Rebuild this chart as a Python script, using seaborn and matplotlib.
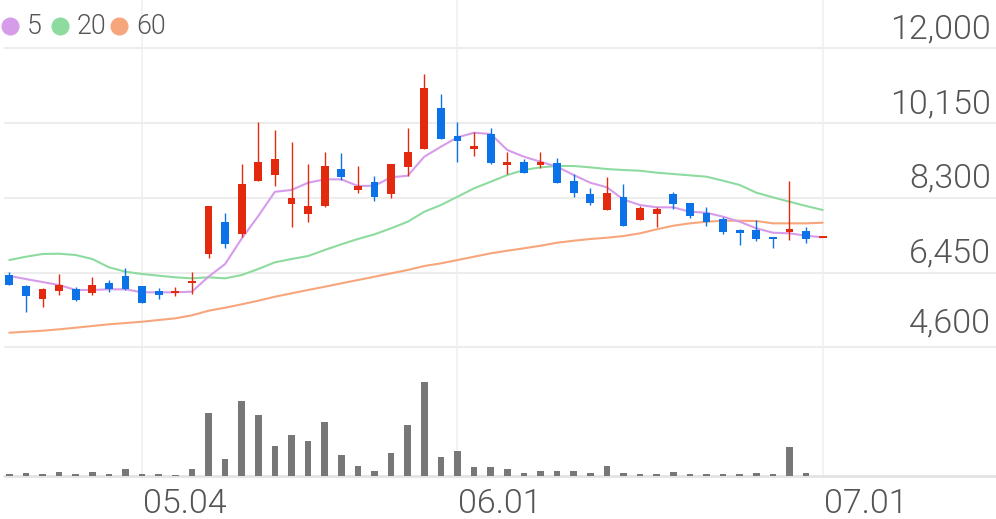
import numpy as np
import pandas as pd
import matplotlib
matplotlib.use("Agg")
import matplotlib.pyplot as plt
import seaborn as sns

# ---------------- data ----------------
dates = pd.bdate_range("2020-04-20", "2020-07-01", freq="C",
                       holidays=["2020-04-30", "2020-05-01", "2020-05-05"])

opens = [6390, 6120, 5790, 6000, 6040, 5950, 6200, 6370, 6120, 6000,
         5940, 6190, 6910, 7710, 7400, 8720, 8860, 8150, 7900, 8100,
         9010, 8490, 8700, 8390, 9070, 9510, 10530, 9830, 9500, 9870,
         9100, 9180, 9100, 9170, 8720, 8390, 8000, 8330, 7750, 7900,
         8390, 8180, 7930, 7770, 7490, 7500, 7340, 7460, 7490, 7300]
highs = [6460, 6140, 6060, 6410, 6100, 6350, 6270, 6560, 6120, 6060,
         6100, 6460, 8100, 7930, 9130, 10170, 9970, 9670, 9130, 9430,
         9400, 9090, 8850, 9140, 10020, 11360, 10860, 10170, 9920, 10020,
         9430, 9250, 9430, 9280, 8880, 8540, 8820, 8630, 8100, 8080,
         8450, 8180, 8080, 7830, 7530, 7750, 7340, 8720, 7580, 7300]
lows = [6140, 5470, 5590, 5890, 5750, 5890, 5960, 6020, 5700, 5800,
        5870, 5910, 6800, 7050, 7320, 8720, 8590, 7580, 7690, 8080,
        8740, 8410, 8220, 8290, 8840, 9510, 9750, 9180, 9340, 9140,
        8890, 8910, 9030, 8660, 8310, 8120, 8000, 7610, 7750, 7580,
        8020, 7810, 7600, 7400, 7130, 7230, 7050, 7260, 7170, 7300]
closes = [6140, 5880, 6040, 6130, 5770, 6150, 6040, 6040, 5700, 5890,
          5990, 6250, 8100, 7160, 8630, 9190, 9250, 8290, 8100, 9090,
          8810, 8600, 8330, 9140, 9440, 11020, 9750, 9710, 9590, 9150,
          9190, 8920, 9180, 8670, 8430, 8160, 8430, 7610, 8050, 8020,
          8150, 7850, 7710, 7450, 7440, 7270, 7270, 7530, 7280, 7300]

ma5 = [6364, 6290, 6216, 6141, 6018, 6018, 6035, 6035, 5961, 5961,
       5961, 5976, 6347, 6661, 7292, 7849, 8450, 8493, 8673, 8757,
       8757, 8592, 8599, 8807, 8846, 9317, 9564, 9797, 9911, 9879,
       9483, 9317, 9193, 9069, 8864, 8673, 8560, 8257, 8121, 8064,
       8064, 7955, 7931, 7832, 7708, 7545, 7436, 7421, 7362, 7322]
ma20 = [6760, 6842, 6909, 6916, 6884, 6785, 6580, 6471, 6414, 6372,
        6332, 6307, 6332, 6307, 6389, 6538, 6703, 6785, 6859, 7008,
        7149, 7280, 7396, 7545, 7708, 7955, 8121, 8327, 8535, 8698,
        8864, 8988, 9054, 9087, 9087, 9054, 9012, 8988, 8970, 8921,
        8889, 8856, 8822, 8723, 8617, 8426, 8312, 8203, 8097, 7998]
ma60 = [4961, 4986, 5010, 5045, 5085, 5127, 5169, 5201, 5233, 5275,
        5317, 5391, 5505, 5580, 5664, 5753, 5852, 5936, 6018, 6099,
        6183, 6265, 6347, 6431, 6513, 6612, 6678, 6760, 6842, 6926,
        6990, 7050, 7114, 7188, 7238, 7280, 7312, 7354, 7421, 7520,
        7609, 7668, 7708, 7733, 7733, 7725, 7668, 7668, 7668, 7683]

volumes = [17, 27, 17, 37, 17, 34, 14, 67, 17, 14,
           7, 70, 624, 170, 750, 607, 297, 407, 347, 540,
           207, 97, 47, 227, 504, 937, 184, 250, 84, 90,
           70, 24, 47, 44, 47, 27, 100, 27, 17, 17,
           40, 17, 17, 14, 17, 24, 14, 284, 24, 0]   # thousands of shares

y_ticks = [12000, 10150, 8300, 6450, 4600]
y_tick_labels = ["12,000", "10,150", "8,300", "6,450", "4,600"]
legend_labels = ["5", "20", "60"]

# ---------------- style ----------------
sns.set_style("white")
plt.rcParams["font.family"] = ["Roboto", "DejaVu Sans"]

UP = "#e42a0e"
DOWN = "#0b72e7"
MA_COLORS = ["#d69ce9", "#8edb9f", "#f7a67c"]
TXT = "#555555"
GRID = "#ededed"

W, H = 996, 519
fig = plt.figure(figsize=(W / 100, H / 100), dpi=100)


def rect(x0, y0, x1, y1):
    return [x0 / W, 1 - y1 / H, (x1 - x0) / W, (y1 - y0) / H]


ax = fig.add_axes(rect(4, 0, 996, 350))
axv = fig.add_axes(rect(4, 350, 996, 475.7))

n = len(closes)
idx = np.arange(n)
x0_pix, step = 9.3, 16.6
xlim = ((4 - x0_pix) / step, (996 - x0_pix) / step)
for a in (ax, axv):
    a.set_xlim(*xlim)
    for s in a.spines.values():
        s.set_visible(False)
    a.set_xticks([])
    a.set_yticks([])
    a.set_facecolor("none")

# price scale: 12000 at pixel 48.3, 4600 at pixel 347.3
ppx = (12000 - 4600) / (347.3 - 48.3)
ax.set_ylim(12000 - (350 - 48.3) * ppx, 12000 + 48.3 * ppx)

# month ticks
months = [d.month for d in dates]
tick_idx = [i for i in range(1, n) if months[i] != months[i - 1]]
tick_lab = [dates[i].strftime("%m.%d") for i in tick_idx]

# grid
for v in y_ticks:
    ax.axhline(v, color=GRID, lw=1.5, zorder=0)
for t in tick_idx:
    ax.axvline(t, color="#efefef", lw=1.1, zorder=0)
    axv.axvline(t, color="#efefef", lw=1.1, zorder=0)

# candles
o = np.array(opens); c = np.array(closes)
hi = np.array(highs); lo = np.array(lows)
cols = [UP if cc >= oo else DOWN for oo, cc in zip(o, c)]
ax.vlines(idx, lo, hi, colors=cols, lw=1.0, zorder=3)
body_h = np.maximum(np.abs(c - o), 60)
ax.bar(idx, body_h, bottom=np.minimum(o, c), width=0.48, color=cols,
       linewidth=0, zorder=4)

# moving averages
df = pd.DataFrame({"i": idx, "ma5": ma5, "ma20": ma20, "ma60": ma60})
for col, color in zip(["ma60", "ma20", "ma5"], MA_COLORS[::-1]):
    sns.lineplot(data=df, x="i", y=col, ax=ax, color=color, lw=1.5,
                 estimator=None, sort=False, zorder=2)
ax.set_xlabel(""); ax.set_ylabel("")
ax.set_xticks([]); ax.set_yticks([])

# y labels (right, above gridlines)
for k, (v, lab) in enumerate(zip(y_ticks, y_tick_labels)):
    off = 15 if k == len(y_ticks) - 1 else 10
    ax.annotate(lab, xy=(1, v), xycoords=("axes fraction", "data"),
                xytext=(-5, off), textcoords="offset pixels",
                ha="right", va="baseline", fontsize=24.5, color=TXT,
                fontweight=300, annotation_clip=False)

# volume
axv.bar(idx, volumes, width=0.4, color="#777777", linewidth=0, zorder=2)
axv.set_ylim(0, 1257)
axv.axhline(0, color="#e4e4e4", lw=2, zorder=1, clip_on=False)

for t, lab in zip(tick_idx, tick_lab):
    axv.annotate(lab, xy=(t, 0), xycoords=("data", "axes fraction"),
                 xytext=(1, -37.3), textcoords="offset pixels",
                 ha="left", va="baseline", fontsize=24.5, color=TXT,
                 fontweight=300, annotation_clip=False)

# legend
leg_x = [10, 60, 119]
for xx, lab, color in zip(leg_x, legend_labels, MA_COLORS):
    fig.lines.append(plt.Line2D([xx / W], [1 - 26 / H], marker="o",
                                markersize=12, color=color, linestyle="none",
                                transform=fig.transFigure))
    fig.text((xx + 17) / W, 1 - 34.3 / H, lab, ha="left", va="baseline",
             fontsize=19.3, color=TXT, fontweight=300)

fig.savefig("out.png", dpi=100)
